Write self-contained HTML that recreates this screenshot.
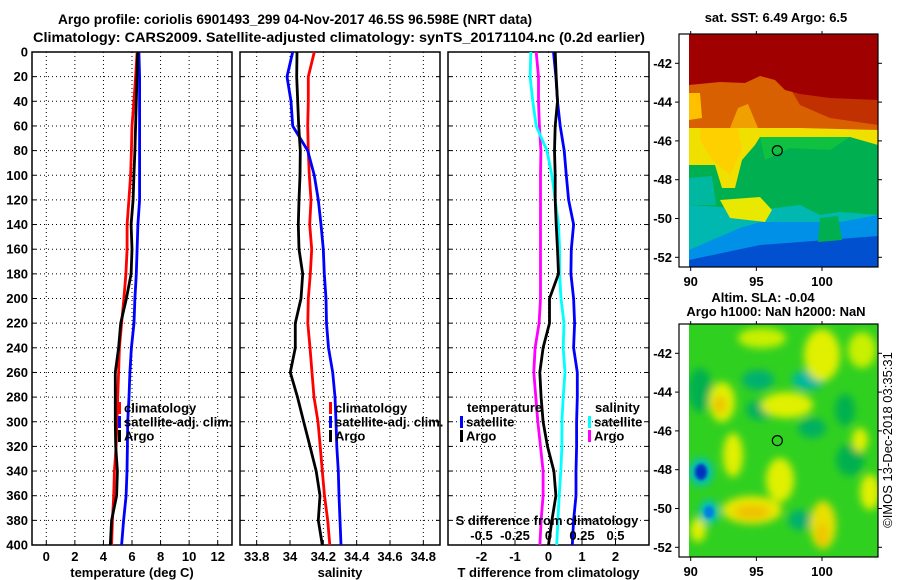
<!DOCTYPE html>
<html><head><meta charset="utf-8">
<style>
html,body{margin:0;padding:0;background:#fff;overflow:hidden;}
svg{display:block;font-family:"Liberation Sans",sans-serif;font-weight:bold;}
</style></head>
<body>
<svg id="fig" width="900" height="580" viewBox="0 0 900 580" xmlns="http://www.w3.org/2000/svg">
<defs>
<filter id="blur2" x="-50%" y="-50%" width="200%" height="200%"><feGaussianBlur stdDeviation="4"/></filter>
<filter id="blur1" x="-20%" y="-20%" width="140%" height="140%"><feGaussianBlur stdDeviation="1.5"/></filter>
<clipPath id="map1clip"><rect x="689" y="34" width="189" height="233"/></clipPath>
<clipPath id="map2clip"><rect x="689" y="324" width="189" height="233"/></clipPath>
</defs>
<text x="295" y="24" font-size="14" text-anchor="middle" textLength="474" lengthAdjust="spacingAndGlyphs">Argo profile: coriolis 6901493_299 04-Nov-2017 46.5S 96.598E (NRT data)</text>
<text x="339" y="42" font-size="14" text-anchor="middle" textLength="612" lengthAdjust="spacingAndGlyphs">Climatology: CARS2009. Satellite-adjusted climatology: synTS_20171104.nc (0.2d earlier)</text>
<g clip-path="url(#map1clip)">
 <rect x="689" y="34" width="189" height="233" fill="#0090e8"/>
 <polygon fill="#0050d0" points="760,245 800,242 878,236 878,267 689,267 689,260"/>
 <polygon fill="#00b8b0" points="689,34 878,34 878,215 840,222 800,222 760,222 740,228 689,250"/>
 <polygon fill="#00b050" points="689,34 878,34 878,215 840,212 820,215 800,205 760,210 720,207 689,205"/>
 <polygon fill="#00b8a0" points="689,178 712,176 716,205 689,205"/>
 <polygon fill="#10c040" points="760,137 850,137 830,150 790,148 765,160"/>
 <polygon fill="#f0e000" points="689,34 878,34 878,145 850,137 760,137 755,145 742,160 735,188 722,188 715,165 689,165"/>
 <polygon fill="#ffd000" points="700,128 738,128 742,150 730,175 712,160 700,140"/>
 <polygon fill="#e8e800" points="720,200 760,197 772,210 765,222 730,218"/>
 <polygon fill="#d86000" points="689,34 878,34 878,130 800,128 760,128 689,128"/>
 <polygon fill="#ffc000" points="689,93 700,93 702,118 689,120"/>
 <polygon fill="#f0a000" points="730,128 738,108 748,104 758,128"/>
 <polygon fill="#c03000" points="790,88 878,90 878,125 830,118 800,105"/>
 <polygon fill="#a00000" points="689,34 878,34 878,100 830,98 800,94 785,90 775,80 760,76 745,83 720,82 689,85"/>
 <polygon fill="#00b050" points="820,218 838,216 842,240 818,242"/>
</g>
<rect x="679" y="34" width="10" height="233" fill="#fff"/>
<g clip-path="url(#map2clip)">
 <rect x="689" y="324" width="189" height="233" fill="#30d020"/>
 <g filter="url(#blur2)">
  <ellipse cx="760" cy="410" rx="14" ry="10" fill="#00b060"/>
  <ellipse cx="758" cy="380" rx="16" ry="10" fill="#00b070"/>
  <ellipse cx="808" cy="380" rx="16" ry="10" fill="#00b8a0"/>
  <ellipse cx="812" cy="428" rx="14" ry="10" fill="#00b060"/>
  <ellipse cx="850" cy="460" rx="14" ry="16" fill="#00b050"/>
  <ellipse cx="800" cy="520" rx="12" ry="10" fill="#00b070"/>
  <ellipse cx="845" cy="410" rx="10" ry="16" fill="#00b050"/>
  <ellipse cx="700" cy="390" rx="12" ry="22" fill="#00b050"/>
  <ellipse cx="722" cy="402" rx="13" ry="20" fill="#e0f000"/>
  <ellipse cx="733" cy="455" rx="10" ry="22" fill="#e0f000"/>
  <ellipse cx="787" cy="405" rx="26" ry="13" fill="#e0f000"/>
  <ellipse cx="822" cy="355" rx="18" ry="26" fill="#e0f000"/>
  <ellipse cx="862" cy="350" rx="14" ry="18" fill="#c8f000"/>
  <ellipse cx="762" cy="338" rx="24" ry="10" fill="#c8f000"/>
  <ellipse cx="780" cy="480" rx="14" ry="22" fill="#e0f000"/>
  <ellipse cx="752" cy="510" rx="30" ry="14" fill="#e8e800"/>
  <ellipse cx="823" cy="525" rx="13" ry="24" fill="#e8e000"/>
  <ellipse cx="870" cy="492" rx="10" ry="18" fill="#e0f000"/>
  <ellipse cx="860" cy="440" rx="8" ry="12" fill="#e0f000"/>
  <ellipse cx="698" cy="530" rx="8" ry="12" fill="#e0f000"/>
  <ellipse cx="720" cy="405" rx="6" ry="9" fill="#f0c000"/>
  <ellipse cx="752" cy="512" rx="18" ry="7" fill="#f0c000"/>
  <ellipse cx="822" cy="535" rx="5" ry="12" fill="#f0c000"/>
  <ellipse cx="701" cy="472" rx="12" ry="14" fill="#00c0c0"/>
  <ellipse cx="709" cy="512" rx="10" ry="12" fill="#00c0c0"/>
 </g>
 <g filter="url(#blur1)">
  <ellipse cx="701" cy="472" rx="6" ry="8" fill="#0030c0"/>
  <ellipse cx="709" cy="512" rx="5" ry="6" fill="#0080e0"/>
 </g>
</g>
<rect x="679" y="324" width="10" height="233" fill="#fff"/>
<g id="panels"></g>
<g id="maps"></g>
</svg>
<script>
// ---- data ----
const depths = [0,20,40,60,80,100,120,140,160,180,200,220,240,260,280,300,320,340,360,380,400];
const depthTicks = [0,20,40,60,80,100,120,140,160,180,200,220,240,260,280,300,320,340,360,380,400];
const tempTicks = [0,2,4,6,8,10,12];
const salTicks = [33.8,34,34.2,34.4,34.6,34.8];
const salTickLabels = ["33.8","34","34.2","34.4","34.6","34.8"];
const diffTicks = [-2,-1,0,1,2];
const sDiffTicks = [-0.5,-0.25,0,0.25,0.5];
const sDiffTickLabels = ["-0.5","-0.25","0","0.25","0.5"];

const tempClim = [6.36,6.25,6.13,6.0,5.96,5.9,5.78,5.66,5.66,5.57,5.43,5.27,5.12,5.06,5.0,4.95,4.89,4.77,4.72,4.63,4.57];
const tempSat  = [6.48,6.53,6.53,6.53,6.53,6.53,6.53,6.41,6.36,6.3,6.2,6.14,5.96,5.85,5.79,5.7,5.68,5.65,5.59,5.41,5.27];
const tempArgo = [6.4,6.35,6.3,6.25,6.2,6.13,6.08,5.94,6.0,5.94,5.61,5.21,5.06,4.83,4.83,4.83,4.86,4.98,4.92,4.57,4.48];

const salClim = [34.146,34.11,34.11,34.106,34.11,34.116,34.126,34.118,34.13,34.122,34.11,34.107,34.12,34.132,34.144,34.168,34.181,34.194,34.207,34.226,34.239];
const salSat  = [34.016,33.982,34.006,34.016,34.106,34.146,34.17,34.186,34.2,34.206,34.216,34.219,34.231,34.256,34.27,34.276,34.281,34.29,34.294,34.3,34.306];
const salArgo = [34.042,34.04,34.046,34.052,34.062,34.06,34.054,34.05,34.054,34.076,34.066,34.032,34.032,34.002,34.045,34.082,34.12,34.157,34.18,34.17,34.194];

const tDiffSat  = [0.15,0.22,0.27,0.35,0.47,0.53,0.6,0.75,0.68,0.67,0.75,0.78,0.75,0.86,0.86,0.84,0.84,0.82,0.82,0.75,0.71];
const tDiffArgo = [0.2,0.23,0.27,0.2,0.18,0.2,0.2,0.23,0.27,0.3,0.03,0.03,-0.16,-0.26,-0.22,-0.16,-0.03,0.16,0.22,0.1,0.0];
const sDiffSat  = [-0.132,-0.137,-0.117,-0.092,-0.012,0.025,0.05,0.075,0.083,0.083,0.093,0.116,0.11,0.123,0.11,0.1,0.1,0.092,0.08,0.07,0.061];
const sDiffArgo = [-0.092,-0.075,-0.075,-0.068,-0.057,-0.06,-0.06,-0.06,-0.06,-0.06,-0.06,-0.07,-0.1,-0.11,-0.095,-0.08,-0.06,-0.04,-0.04,-0.055,-0.064];

const NS = "http://www.w3.org/2000/svg";
function mk(tag, attrs, parent){ const e=document.createElementNS(NS,tag); for(const k in attrs) e.setAttribute(k,attrs[k]); if(parent) parent.appendChild(e); return e; }
const Y0=52, Y1=545;
function yD(d){ return Y0 + d/400*(Y1-Y0); }
function lin(a,b,p,q){ return v => p + (v-a)/(b-a)*(q-p); }

const P = document.getElementById('panels');
const panels = [
 {name:'temperature-panel', x0:32, x1:232, sx:lin(-1,13,32,232), ticks:tempTicks, labels:tempTicks.map(String), title:'temperature (deg C)'},
 {name:'salinity-panel', x0:240, x1:440, sx:lin(33.7,34.9,240,440), ticks:salTicks, labels:salTickLabels, title:'salinity'},
 {name:'difference-panel', x0:448, x1:649, sx:lin(-3,3,448,649), ticks:diffTicks, labels:diffTicks.map(String), title:'T difference from climatology'}
];

panels.forEach((p)=>{
  const g = mk('g',{},P);
  
  
  p.ticks.forEach(t=>{
    const x=p.sx(t);
    const l=mk('line',{x1:x,x2:x,y1:Y0,y2:Y1,stroke:'#000','stroke-width':1,'stroke-dasharray':'1 3'},g);
    
    
    const tk=mk('line',{x1:x,x2:x,y1:Y1,y2:Y1-4,stroke:'#000','stroke-width':1},g);
    
    
  });
  depthTicks.forEach(d=>{
    const y=yD(d);
    const l=mk('line',{x1:p.x0,x2:p.x1,y1:y,y2:y,stroke:'#000','stroke-width':1,'stroke-dasharray':'1 3'},g);
    
    
    const t1=mk('line',{x1:p.x0,x2:p.x0+4,y1:y,y2:y,stroke:'#000','stroke-width':1},g);
    
    
    const t2=mk('line',{x1:p.x1,x2:p.x1-4,y1:y,y2:y,stroke:'#000','stroke-width':1},g);
    
    
  });
  const fr=mk('rect',{x:p.x0,y:Y0,width:p.x1-p.x0,height:Y1-Y0,fill:'none',stroke:'#000','stroke-width':1.5},g);
  
  
  p.ticks.forEach((t,i)=>{
    const tx=mk('text',{x:p.sx(t),y:561,'font-size':13,'text-anchor':'middle'},g);
    tx.textContent=p.labels[i];
    
    
  });
  const at=mk('text',{x:(p.x0+p.x1)/2,y:577,'font-size':13,'text-anchor':'middle'},g);
  at.textContent=p.title;
  
  
});
depthTicks.forEach(d=>{
  const t=mk('text',{x:28,y:yD(d)+4.5,'font-size':13,'text-anchor':'end'},P);
  t.textContent=String(d);
  
  
});

function drawLine(vals, sx, color, name){
  const pts = vals.map((v,i)=> sx(v).toFixed(1)+','+yD(depths[i]).toFixed(1)).join(' ');
  const l=mk('polyline',{points:pts,fill:'none',stroke:color,'stroke-width':2.8,'stroke-linejoin':'miter'},P);
  
  
}
const sT=panels[0].sx, sS=panels[1].sx, sD=panels[2].sx;
const sSD=lin(-0.75,0.75,448,649);
drawLine(tempClim,sT,'#f00','temperature-climatology-line');
drawLine(tempSat,sT,'#00f','temperature-satellite-line');
drawLine(tempArgo,sT,'#000','temperature-argo-line');
drawLine(salClim,sS,'#f00','salinity-climatology-line');
drawLine(salSat,sS,'#00f','salinity-satellite-line');
drawLine(salArgo,sS,'#000','salinity-argo-line');
drawLine(sDiffArgo,sSD,'#f0f','salinity-diff-argo-line');
drawLine(sDiffSat,sSD,'#0ff','salinity-diff-satellite-line');
drawLine(tDiffSat,sD,'#00f','temperature-diff-satellite-line');
drawLine(tDiffArgo,sD,'#000','temperature-diff-argo-line');

const sdt=mk('text',{x:547,y:525,'font-size':13,'text-anchor':'middle'},P);
sdt.textContent='S difference from climatology';


sDiffTicks.forEach((t,i)=>{
  const tx=mk('text',{x:sSD(t),y:540,'font-size':13,'text-anchor':'middle'},P);
  tx.textContent=sDiffTickLabels[i];
  
  
});

function legendEntry(x,y,color,label,name){
  const g=mk('g',{},P);
  
  
  const r=mk('rect',{x:x,y:y-6,width:3,height:12,fill:color},g);
  
  
  const t=mk('text',{x:x+6,y:y+4.5,'font-size':13},g);
  t.textContent=label;
  
  
}
[[118,'temperature'],[329,'salinity']].forEach(([x,n])=>{
  legendEntry(x,408,'#f00','climatology','legend-'+n+'-climatology');
  legendEntry(x,422,'#00f','satellite-adj. clim.','legend-'+n+'-satellite');
  legendEntry(x,436,'#000','Argo','legend-'+n+'-argo');
});
const lt1=mk('text',{x:467,y:412,'font-size':13},P); lt1.textContent='temperature';


const lt2=mk('text',{x:595,y:412,'font-size':13},P); lt2.textContent='salinity';


legendEntry(460,422,'#00f','satellite','legend-tdiff-satellite');
legendEntry(460,436,'#000','Argo','legend-tdiff-argo');
legendEntry(588,422,'#0ff','satellite','legend-sdiff-satellite');
legendEntry(588,436,'#f0f','Argo','legend-sdiff-argo');

// ---- maps ----
const M=document.getElementById('maps');
const lonTicks=[90,95,100];
const latTicks=[-42,-44,-46,-48,-50,-52];
const mx=lin(90,100,690.7,822);
function drawMapFrame(top,y42,y52,name){
  const my=lin(-42,-52,y42,y52);
  const g=mk('g',{},M);
  
  
  const f=mk('rect',{x:679,y:top,width:199,height:233,fill:'none',stroke:'#000','stroke-width':1.2},g);
  
  
  latTicks.forEach(l=>{
    const y=my(l);
    const t=mk('line',{x1:675,x2:679,y1:y,y2:y,stroke:'#000'},g);
     
    const t2=mk('line',{x1:878,x2:882,y1:y,y2:y,stroke:'#000'},g);
     
    const tx=mk('text',{x:672,y:y+4.5,'font-size':13,'text-anchor':'end'},g);
    tx.textContent=String(l);
     
  });
  lonTicks.forEach(l=>{
    const x=mx(l);
    const t=mk('line',{x1:x,x2:x,y1:top+233,y2:top+237,stroke:'#000'},g);
     
    const t2=mk('line',{x1:x,x2:x,y1:top,y2:top-3,stroke:'#000'},g);
     
    const tx=mk('text',{x:x,y:top+252,'font-size':13,'text-anchor':'middle'},g);
    tx.textContent=String(l);
     
  });
  const c=mk('circle',{cx:mx(96.598),cy:my(-46.5),r:5,fill:'none',stroke:'#000','stroke-width':1.2},g);
  
  
}
drawMapFrame(34,63.3,257.3,'sst-map');
drawMapFrame(324,353.3,547.3,'sla-map');
[[776,22,'sat. SST: 6.49 Argo: 6.5','sst-map-title'],[763,302,'Altim. SLA: -0.04','sla-map-title'],[776,316,'Argo h1000: NaN h2000: NaN','sla-map-subtitle']].forEach(([x,y,s,n])=>{
  const t=mk('text',{x:x,y:y,'font-size':13,'text-anchor':'middle'},M);
  t.textContent=s;
  
  
});
const cr=mk('text',{x:0,y:0,'font-size':13,'font-weight':'normal','text-anchor':'middle',transform:'translate(892,440) rotate(-90)'},M);
cr.textContent='©IMOS 13-Dec-2018 03:35:31';


</script>
</body></html>
